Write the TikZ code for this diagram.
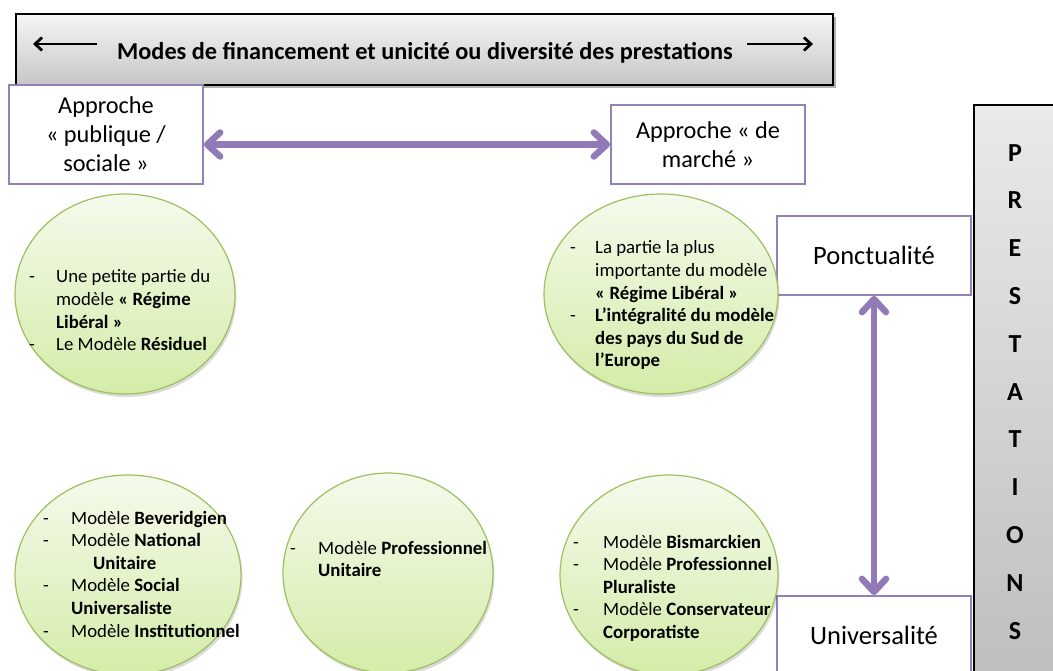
\documentclass[tikz,border=0pt]{standalone}
\usepackage{fontspec}
\setmainfont{Carlito}
\usetikzlibrary{shapes.geometric,arrows.meta,shadows,calc}
\definecolor{purp}{RGB}{145,122,183}
\definecolor{boxline}{RGB}{150,128,188}
\definecolor{bubline}{RGB}{158,190,96}
\definecolor{bubtop}{RGB}{245,250,236}
\definecolor{bubbot}{RGB}{212,236,168}
\definecolor{bantop}{RGB}{246,246,246}
\definecolor{banbot}{RGB}{198,198,198}
\begin{document}
\begin{tikzpicture}[x=1pt,y=-1pt,
  banner/.style={draw=black, line width=1.3pt, top color=bantop, bottom color=banbot, inner sep=0pt,
    drop shadow={shadow xshift=3pt, shadow yshift=-3pt, opacity=0.3, fill=black}},
  box/.style={draw=boxline, line width=1.8pt, fill=white, inner sep=0pt, align=center,
    font=\fontsize{24.3}{29}\selectfont},
  bigbox/.style={box, font=\fontsize{26.5}{32}\selectfont},
  bubble/.style={ellipse, draw=bubline, line width=1.2pt, top color=bubtop, bottom color=bubbot, inner sep=0pt,
    drop shadow={shadow xshift=1.5pt, shadow yshift=-3pt, opacity=0.14, fill=black}},
  bubtext/.style={anchor=base west, inner sep=0pt, font=\fontsize{18.8}{22.6}\selectfont},
  biarrow/.style={draw=purp, line width=6.5pt,
    {Straight Barb[length=13pt,width=24pt,round]}-{Straight Barb[length=13pt,width=24pt,round]}},
  smallarrow/.style={draw=black, line width=2.8pt, -{Straight Barb[length=7pt,width=13pt]}}
]
\useasboundingbox (0,0) rectangle (1053,671);
\clip (0,0) rectangle (1053,671);

% banner
\node[banner, minimum width=817pt, minimum height=71pt] (ban) at (424.5,49.5) {};
\node[anchor=base, inner sep=0pt, font=\fontsize{24.3}{29}\selectfont\bfseries] (title) at (425,60)
  {Modes de financement et unicité ou diversité des prestations};
\coordinate (lt) at (97,44); \coordinate (lh) at (33,44);
\coordinate (rt) at (747,44); \coordinate (rh) at (813,44);
\draw[smallarrow] (lt) -- (lh);
\draw[smallarrow] (rt) -- (rh);

% prestations column
\node[draw=black, line width=1.3pt, top color=bantop!95!black, bottom color=banbot!95!black,
  minimum width=94pt, minimum height=600pt, inner sep=0pt] (pbox) at (1021,405) {};
\node[anchor=north, inner sep=0pt, align=center, font=\fontsize{26}{47.8}\selectfont\bfseries] (prest)
  at (1015,144) {P\\R\\E\\S\\T\\A\\T\\I\\O\\N\\S};

% boxes
\node[box, minimum width=194pt, minimum height=99pt] (pub) at (106,134.5) {Approche\\« publique /\\sociale »};
\node[box, minimum width=194pt, minimum height=79pt] (mar) at (708,144.5) {Approche « de\\marché »};
\node[bigbox, minimum width=194pt, minimum height=79pt] (ponct) at (874,255.5) {Ponctualité};
\node[bigbox, minimum width=194pt, minimum height=79pt] (univ) at (874,635.5) {Universalité};

% bubbles
\node[bubble, minimum width=220pt, minimum height=200pt] (e1) at (125,294) {};
\node[bubble, minimum width=234pt, minimum height=200pt] (e2) at (661,294) {};
\node[bubble, minimum width=226pt, minimum height=200pt] (e3) at (128,575) {};
\node[bubble, minimum width=210pt, minimum height=200pt] (e4) at (388,573) {};
\node[bubble, minimum width=218pt, minimum height=200pt] (e5) at (669,575) {};

% arrows
\draw[biarrow] (pub.east |- mar.west) -- (mar.west);
\draw[biarrow] (ponct.south) -- (univ.north);

% bubble texts
\node[bubtext] (t1) at (29,283) {\begin{tabular}[t]{@{}p{27pt}@{}l@{}}
- & Une petite partie du\\
  & modèle \textbf{« Régime}\\
  & \textbf{Libéral »}\\
- & Le Modèle \textbf{Résiduel}
\end{tabular}};
\node[bubtext] (t2) at (570,254) {\begin{tabular}[t]{@{}p{25pt}@{}l@{}}
- & La partie la plus\\
  & importante du modèle\\
  & \textbf{« Régime Libéral »}\\
- & \textbf{L’intégralité du modèle}\\
  & \textbf{des pays du Sud de}\\
  & \textbf{l’Europe}
\end{tabular}};
\node[bubtext] (t3) at (43,524) {\begin{tabular}[t]{@{}p{28pt}@{}l@{}}
- & Modèle \textbf{Beveridgien}\\
- & Modèle \textbf{National}\\
  & \hspace*{22pt}\textbf{Unitaire}\\
- & Modèle \textbf{Social}\\
  & \textbf{Universaliste}\\
- & Modèle \textbf{Institutionnel}
\end{tabular}};
\node[bubtext] (t4) at (290,554) {\begin{tabular}[t]{@{}p{28pt}@{}l@{}}
- & Modèle \textbf{Professionnel}\\
  & \textbf{Unitaire}
\end{tabular}};
\node[bubtext] (t5) at (573,548) {\begin{tabular}[t]{@{}p{30pt}@{}l@{}}
- & Modèle \textbf{Bismarckien}\\
- & Modèle \textbf{Professionnel}\\
  & \textbf{Pluraliste}\\
- & Modèle \textbf{Conservateur}\\
  & \textbf{Corporatiste}
\end{tabular}};
\end{tikzpicture}
\end{document}
